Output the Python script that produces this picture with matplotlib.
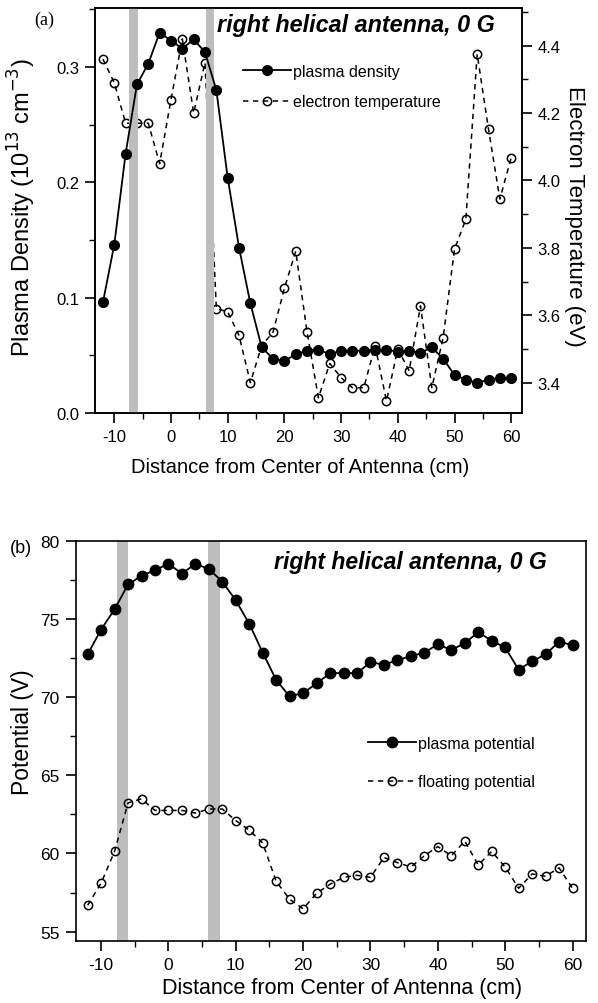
import matplotlib
matplotlib.use("Agg")
import matplotlib.pyplot as plt
from matplotlib.ticker import MultipleLocator, FormatStrFormatter

plt.rcParams['font.family'] = ['Liberation Sans', 'DejaVu Sans']
plt.rcParams['axes.unicode_minus'] = False

# ---------------- data ----------------
distance = [-12, -10, -8, -6, -4, -2, 0, 2, 4, 6, 8, 10, 12, 14, 16, 18, 20, 22, 24,
            26, 28, 30, 32, 34, 36, 38, 40, 42, 44, 46, 48, 50, 52, 54, 56, 58, 60]

plasma_density = [0.096, 0.146, 0.225, 0.285, 0.303, 0.330, 0.323, 0.316, 0.324, 0.313,
                  0.280, 0.204, 0.1435, 0.095, 0.057, 0.047, 0.045, 0.051, 0.054, 0.055,
                  0.051, 0.054, 0.054, 0.054, 0.055, 0.055, 0.053, 0.054, 0.052, 0.057,
                  0.047, 0.033, 0.029, 0.026, 0.029, 0.030, 0.030]

electron_temp = [4.36, 4.29, 4.17, 4.17, 4.17, 4.05, 4.24, 4.42, 4.20, 4.35,
                 3.62, 3.61, 3.54, 3.40, 3.51, 3.55, 3.68, 3.79, 3.55, 3.355,
                 3.457, 3.415, 3.385, 3.385, 3.51, 3.346, 3.50, 3.435, 3.628, 3.385,
                 3.534, 3.796, 3.885, 4.375, 4.152, 3.945, 4.068]

plasma_potential = [72.73, 74.32, 75.61, 77.2, 77.75, 78.12, 78.52, 77.9, 78.52, 78.19,
                    77.38, 76.18, 74.69, 72.84, 71.09, 70.04, 70.26, 70.87, 71.53, 71.53,
                    71.53, 72.23, 72.07, 72.36, 72.62, 72.84, 73.38, 73.01, 73.45, 74.15,
                    73.6, 73.17, 71.75, 72.29, 72.73, 73.54, 73.32]

floating_potential = [56.68, 58.10, 60.13, 63.23, 63.49, 62.75, 62.75, 62.75, 62.58, 62.84,
                      62.84, 62.10, 61.49, 60.66, 58.21, 57.07, 56.46, 57.45, 58.03, 58.47,
                      58.60, 58.47, 59.74, 59.41, 59.13, 59.85, 60.44, 59.85, 60.79, 59.26,
                      60.13, 59.13, 57.77, 58.69, 58.54, 59.08, 57.77]

antenna_bands_a = [(-7.35, -5.8), (6.1, 7.6)]
antenna_bands_b = [(-7.7, -6.0), (5.85, 7.7)]

title_text = "right helical antenna, 0 G"
xlabel_text = "Distance from Center of Antenna (cm)"

# ---------------- figure ----------------
W, H = 598, 1004
fig = plt.figure(figsize=(W / 100, H / 100), dpi=100)

band_color = '#bdbdbd'
spine_w = 1.2


def style_axes(ax, size):
    for s in ax.spines.values():
        s.set_linewidth(spine_w)
    ax.tick_params(which='major', direction='out', length=7, width=1.2, pad=4.5,
                   labelsize=size)
    ax.tick_params(which='minor', direction='out', length=4.5, width=1.0)


def center_label(lbl):
    lbl.set_ha('center')
    lbl.set_va('center')


# ---------- panel (a) ----------
axa = fig.add_axes([95 / W, 1 - 414 / H, (521.7 - 95) / W, (414 - 9.3) / H])
axa.set_xlim(-13.4, 61.85)
axa.set_ylim(0, 0.351)
for x0, x1 in antenna_bands_a:
    axa.axvspan(x0, x1, color=band_color, lw=0, zorder=0)

axb_t = axa.twinx()
axb_t.set_ylim(3.31, 4.511)

lt, = axb_t.plot(distance, electron_temp, color='black', lw=1.1, ls=(0, (3.5, 3)),
                 marker='o', ms=6.0, mfc='none', mec='black', mew=1.1,
                 label='electron temperature', zorder=2)
ld, = axa.plot(distance, plasma_density, color='black', lw=1.3, marker='o', ms=7,
               mfc='black', mec='black', label='plasma density', zorder=3)
axa.set_zorder(axb_t.get_zorder() + 1)
axa.patch.set_visible(False)

axa.xaxis.set_major_locator(MultipleLocator(10))
axa.xaxis.set_minor_locator(MultipleLocator(5))
axa.yaxis.set_major_locator(MultipleLocator(0.1))
axa.yaxis.set_minor_locator(MultipleLocator(0.05))
axa.yaxis.set_major_formatter(FormatStrFormatter('%.1f'))
axb_t.yaxis.set_major_locator(MultipleLocator(0.2))
axb_t.yaxis.set_minor_locator(MultipleLocator(0.1))
axb_t.yaxis.set_major_formatter(FormatStrFormatter('%.1f'))
style_axes(axa, 12)
style_axes(axb_t, 12)

axa.set_xlabel(xlabel_text, fontsize=14.5)
axa.xaxis.set_label_coords(0.48, -0.131)
center_label(axa.xaxis.label)
axa.set_ylabel("Plasma Density (10$^{13}$ cm$^{-3}$)", fontsize=17)
axa.yaxis.set_label_coords(-0.172, 0.511)
center_label(axa.yaxis.label)
axb_t.set_ylabel("Electron Temperature (eV)", fontsize=16, rotation=270)
axb_t.yaxis.set_label_coords(1.124, 0.489)
center_label(axb_t.yaxis.label)

axa.text(0.9375, 0.961, title_text, transform=axa.transAxes, ha='right', va='center',
         fontsize=16.8, fontweight='bold', fontstyle='italic')
axa.legend([ld, lt], ['plasma density', 'electron temperature'], loc='upper left',
           bbox_to_anchor=(243 / W, 1 - 65 / H), bbox_transform=fig.transFigure,
           frameon=False, fontsize=11.5, handlelength=3.0, handletextpad=0.15,
           borderpad=0, borderaxespad=0, labelspacing=0.95)

fig.text(44 / W, 1 - 20 / H, "(a)", family='Liberation Serif', fontsize=13,
         ha='center', va='center')

# ---------- panel (b) ----------
axb = fig.add_axes([75.5 / W, 1 - 942 / H, (586 - 75.5) / W, (942 - 541.7) / H])
axb.set_xlim(-13.8, 62.0)
axb.set_ylim(54.4, 80)
for x0, x1 in antenna_bands_b:
    axb.axvspan(x0, x1, color=band_color, lw=0, zorder=0)

lp, = axb.plot(distance, plasma_potential, color='black', lw=1.3, marker='o', ms=7.5,
               mfc='black', mec='black', label='plasma potential', zorder=3)
lf, = axb.plot(distance, floating_potential, color='black', lw=1.1, ls=(0, (3.5, 3)),
               marker='o', ms=6.0, mfc='none', mec='black', mew=1.1,
               label='floating potential', zorder=2)

axb.xaxis.set_major_locator(MultipleLocator(10))
axb.xaxis.set_minor_locator(MultipleLocator(5))
axb.yaxis.set_major_locator(MultipleLocator(5))
axb.yaxis.set_minor_locator(MultipleLocator(2.5))
style_axes(axb, 12.5)

axb.set_xlabel(xlabel_text, fontsize=15.5)
axb.xaxis.set_label_coords(0.523, -0.115)
center_label(axb.xaxis.label)
axb.set_ylabel("Potential (V)", fontsize=16.5)
axb.yaxis.set_label_coords(-0.104, 0.525)
center_label(axb.yaxis.label)

axb.text(0.9236, 0.947, title_text, transform=axb.transAxes, ha='right', va='center',
         fontsize=16.6, fontweight='bold', fontstyle='italic')
axb.legend([lp, lf], ['plasma potential', 'floating potential'], loc='upper left',
           bbox_to_anchor=(368 / W, 1 - 737 / H), bbox_transform=fig.transFigure,
           frameon=False, fontsize=11.5, handlelength=3.0, handletextpad=0.15,
           borderpad=0, borderaxespad=0, labelspacing=1.45)

fig.text(21 / W, 1 - 549 / H, "(b)", fontsize=13, ha='center', va='center')

fig.savefig("out.png", dpi=100)
